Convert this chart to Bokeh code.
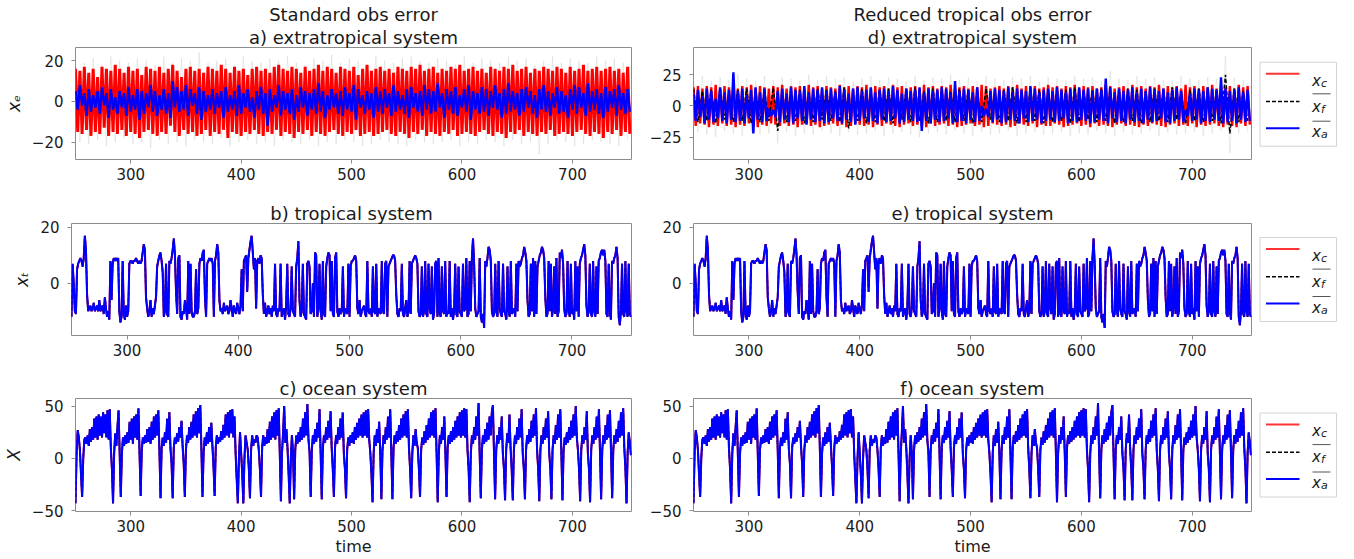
from bokeh.plotting import figure
from bokeh.layouts import column, row
from bokeh.models import Range1d, FixedTicker, Title
from bokeh.core.properties import value
from bokeh.embed import file_html
from bokeh.resources import INLINE

# ---------------- data ----------------
T0 = 250
# tropical system, one value per time unit from t=250
tropical = [
    -12, 7, 0, -10, -11, 5, 7, 8, 9, 8,
    6, 9, 17, 12, -4, -10, -9, -8, -10, -9,
    -7, -10, -9, -8, -10, -6, -10, -9, -8, -11,
    -5, -9, -12, -10, -13, 8, -6, 7, 9, 8,
    9, 8, 9, -10, -14, -12, 8, -11, -13, -8,
    -12, -10, 7, 8, 8, 7, 8, 8, 9, 8,
    7, 8, 7, 8, 11, 14, 12, -5, -9, -12,
    -10, -6, -12, -9, -11, -8, -5, 6, 8, 10,
    11, 8, 4, -12, -10, 7, -11, -12, 8, 7,
    9, 12, 16, 10, -3, -11, 9, 10, -12, -13,
    -10, -11, -6, -9, -13, 8, -11, 7, -10, -12,
    -12, -10, 5, -11, -9, 7, 9, 8, 11, 12,
    -5, -12, 7, 8, 9, 8, 9, 7, -12, 8,
    10, 14, 11, -6, -10, -9, -11, -7, -10, -9,
    -8, -11, -10, -6, -9, -12, -8, -10, -11, -7,
    -9, -11, -8, 5, -10, 8, 9, 10, -3, 9,
    12, 15, 17, 11, 5, 9, -9, 8, 9, 7,
    10, 9, -4, -11, -7, -12, -10, -8, -11, -9,
    -12, -8, -10, 7, -11, -12, -9, -10, 7, -12,
    -10, -9, -13, -8, 7, -11, -12, -9, 6, -10,
    -11, -12, 6, 9, 15, -6, -12, -10, 7, -11,
    -12, -13, 7, 8, 6, -11, -10, 0, -12, 11,
    10, -12, -9, 7, -10, -13, 8, -11, -12, 6,
    9, 11, 10, -10, 8, -11, -12, 9, 11, -10,
    -12, -9, -11, -10, 6, -12, -9, -10, -11, 7,
    -12, 6, 8, 8, 9, 10, 8, -9, -11, -6,
    -12, -10, -9, -8, -11, -12, 8, -10, -11, -9,
    -12, 6, -10, -11, 7, -12, -9, -10, -11, 8,
    -10, -11, 7, 8, -12, 6, 7, 8, 9, 10,
    10, 8, -4, -11, -12, -9, -10, 7, -11, -12,
    -9, -6, -12, -10, 8, -11, 7, 8, 9, 10,
    9, 7, -10, -12, -11, 6, -12, -10, 8, -11,
    -12, 7, -9, -11, 6, -13, -11, 7, 8, -12,
    9, -11, -12, 6, -10, -11, 8, -12, -10, -11,
    8, -12, -9, -13, -10, 7, -11, -12, 6, -10,
    -11, -12, 7, -10, -9, 9, -12, -11, 8, -10,
    9, 16, 7, -9, -12, -11, -10, 9, -12, -14,
    -11, -16, 8, 6, 9, 13, 12, 8, -10, -12,
    -11, 7, -10, -12, 8, -9, -11, -12, 7, -10,
    -11, -13, 6, -10, -12, 8, -11, -10, -9, -12,
    7, -10, 8, 6, 7, 9, 10, 13, 11, 8,
    -6, -12, -11, 7, -10, 9, -12, 8, -11, 6,
    8, 10, 11, 13, 12, 9, -5, -12, -11, 8,
    -10, 7, -12, -9, 6, -11, 9, -12, -10, 11,
    9, 12, 7, -9, -12, -11, 8, -10, -12, 7,
    -11, -9, -13, 8, -10, 6, -12, 7, 9, 10,
    12, 14, 10, -8, -12, -10, 7, -11, -12, 8,
    -10, -12, 6, -11, 8, 9, 11, 12, 10, 12,
    8, -11, -12, 7, -10, -13, 8, 7, 9, 10,
    13, 9, -12, -15, -10, 7, -11, -12, 8, -10,
    -12, 7, -11, -12,
]
# ocean system, one value per time unit from t=250
ocean = [
    -43, 5, 27, 20, 8, -15, -37, 0, 18, 20,
    14, 22, 12, 28, 16, 30, 18, 38, 20, 40,
    18, 42, 22, 40, 20, 44, 24, 42, 20, 46,
    18, 47, 10, -10, -43, 5, 24, 12, 30, 46,
    5, -37, 5, 20, 12, 22, 14, 25, 15, 35,
    18, 38, 14, 40, 20, 42, 18, 48, 5, -36,
    8, 20, 14, 22, 15, 28, 16, 30, 14, 35,
    18, 40, 20, 42, 22, 46, 8, -38, 10, 20,
    12, 25, 15, 38, 18, 44, 10, -5, -38, 10,
    20, 14, 24, 16, 30, 20, 36, 12, -5, -37,
    8, 22, 15, 30, 18, 35, 20, 42, 22, 45,
    20, 48, 24, 51, 10, -37, 5, 20, 12, 25,
    14, 30, 16, 34, 12, -8, -36, 10, 22, 14,
    20, 16, 26, 18, 32, 20, 42, 22, 44, 20,
    46, 24, 47, 20, 40, 5, -20, -43, 0, 25,
    5, -15, -43, 0, 22, 15, 8, -10, -38, 8,
    22, 12, 18, 15, 22, 20, 8, -10, -37, 10,
    22, 12, 20, 14, 28, 15, 35, 18, 40, 20,
    44, 18, 46, 22, 48, 5, -41, 5, 25, 50,
    15, 28, 10, -15, -43, 0, 22, 5, -39, 8,
    22, 14, 25, 16, 30, 18, 38, 20, 44, 22,
    52, 18, 5, -37, 8, 22, 14, 28, 16, 34,
    20, 47, 5, -39, 10, 22, 15, 30, 18, 36,
    20, 45, 10, -10, -37, 10, 22, 14, 30, 18,
    38, 20, 44, 5, -10, -38, 8, 20, 12, 22,
    15, 25, 14, 30, 18, 34, 20, 38, 22, 42,
    20, 44, 22, 46, 20, 47, 18, 5, -15, -42,
    5, 22, 12, 28, 15, 35, 5, -39, 8, 22,
    14, 30, 18, 40, 20, 47, 5, -39, 10, 22,
    14, 26, 16, 32, 18, 38, 20, 42, 22, 45,
    20, 47, 10, -10, -38, 5, 22, 12, 28, 15,
    10, -10, -37, 8, 20, 13, 26, 15, 32, 18,
    38, 20, 44, 22, 46, 20, 48, 5, -42, 5,
    22, 14, 30, 18, 40, 5, -37, 10, 22, 14,
    26, 16, 30, 18, 36, 20, 40, 22, 44, 20,
    46, 22, 48, 20, 47, 8, -10, -42, 5, 22,
    14, 30, 18, 40, 22, 53, 5, -38, 8, 22,
    14, 28, 16, 34, 18, 40, 22, 44, 51, 5,
    -39, 8, 22, 14, 30, 18, 40, 5, -10, -40,
    8, 24, 15, 42, 10, -10, -40, 8, 22, 14,
    30, 18, 38, 20, 47, 5, -10, -39, 8, 22,
    14, 28, 16, 36, 20, 42, 22, 48, 8, -10,
    -41, 8, 22, 14, 30, 18, 38, 20, 45, 5,
    -10, -39, 8, 22, 14, 32, 18, 42, 20, 47,
    5, -40, 8, 20, 13, 25, 15, 30, 18, 36,
    20, 42, 22, 50, 20, 8, -10, -41, 8, 22,
    14, 30, 18, 45, 5, -10, -42, 8, 22, 14,
    30, 18, 40, 20, 47, 5, -39, 8, 22, 14,
    32, 18, 42, 20, 46, 5, -38, 8, 22, 14,
    28, 16, 36, 20, 44, 22, 48, 10, -10, -43,
    5, 25, 15, 3,
]

# extratropical system: swing extremes per 4-time-unit bin (from t=250)
BIN = 4
xc_hi_a = [16, 15, 17, 14, 16, 12, 17, 16, 15, 18, 16, 14, 17, 15, 16, 13, 17, 16, 15, 17,
           14, 16, 18, 15, 12, 16, 17, 15, 16, 14, 17, 16, 15, 18, 16, 14, 17, 15, 16, 13,
           16, 17, 15, 16, 14, 17, 18, 16, 15, 17, 16, 14, 17, 15, 16, 18, 15, 17, 16, 14,
           17, 16, 15, 17, 13, 16, 18, 15, 16, 17, 15, 16, 14, 17, 16, 15, 17, 16, 18, 15,
           16, 17, 14, 16, 15, 17, 16, 18, 15, 16, 17, 15, 16, 14, 17, 16, 15, 17, 16, 18,
           15, 16, 17, 14, 16, 15, 17, 16, 15, 17, 16, 14, 17, 15, 16, 18, 15, 16, 17, 15,
           16, 17, 15, 16, 14, 17]
xc_lo_a = [-15, -16, -14, -17, -15, -16, -13, -17, -15, -16, -14, -17, -15, -16, -18, -15, -14, -16, -17, -15,
           -16, -12, -15, -17, -14, -16, -15, -17, -16, -14, -17, -15, -16, -14, -18, -15, -16, -17, -15, -16,
           -14, -16, -17, -15, -16, -14, -17, -15, -16, -18, -15, -16, -14, -17, -15, -16, -17, -15, -14, -16,
           -17, -15, -16, -14, -17, -16, -15, -17, -16, -15, -14, -16, -17, -15, -16, -18, -15, -16, -14, -17,
           -15, -16, -17, -15, -16, -14, -17, -16, -15, -16, -17, -15, -14, -16, -17, -15, -16, -18, -15, -16,
           -14, -17, -15, -16, -17, -15, -16, -14, -17, -16, -15, -16, -17, -15, -14, -16, -17, -15, -16, -18,
           -15, -16, -14, -17, -15, -16]
xa_hi_a = [5, 8, 4, 6, 3, 5, 7, 4, 6, 2, 5, 4, 7, 3, 6, 5, 4, 8, 5, 3,
           6, 4, 10, 7, 5, 8, 6, 4, 7, 5, 3, 6, 4, 5, 7, 3, 5, 8, 4, 6,
           2, 5, 7, 4, 6, 3, 8, 5, 4, 6, 3, 7, 5, 4, 6, 9, 5, 3, 6, 4,
           5, 7, 4, 8, 6, 3, 5, 4, 7, 5, 6, 4, 8, 5, 3, 6, 7, 4, 5, 8,
           6, 5, 9, 4, 6, 5, 7, 3, 6, 8, 5, 4, 7, 6, 5, 8, 4, 6, 9, 5,
           4, 6, 7, 5, 3, 6, 8, 5, 4, 7, 5, 3, 6, 8, 7, 4, 9, 5, 6, 4,
           7, 5, 6, 8, 4, 6]
xa_lo_a = [-4, -2, -7, -5, -3, -6, -2, -8, -4, -6, -3, -7, -5, -4, -9, -6, -3, -5, -7, -4,
           -6, -8, -3, -5, -4, -7, -2, -6, -9, -5, -4, -6, -3, -8, -5, -4, -7, -6, -3, -5,
           -8, -4, -6, -12, -5, -3, -7, -4, -6, -9, -5, -3, -7, -4, -6, -5, -8, -4, -3, -6,
           -7, -4, -5, -9, -3, -6, -4, -8, -5, -6, -3, -7, -5, -4, -6, -8, -3, -5, -7, -4,
           -6, -5, -3, -8, -4, -6, -7, -3, -5, -9, -4, -6, -5, -7, -3, -4, -8, -6, -5, -4,
           -7, -5, -3, -6, -8, -4, -5, -7, -3, -6, -5, -8, -4, -6, -3, -7, -5, -4, -6, -8,
           -5, -3, -7, -4, -6, -5]
xc_hi_d = [15, 16, 14, 16, 15, 17, 14, 16, 15, 16, 14, 16, 15, 17, 14, 16, 15, 14, 16, 15,
           17, 14, 16, 15, 16, 14, 17, 15, 16, 14, 16, 15, 14, 17, 15, 16, 14, 16, 15, 17,
           14, 16, 15, 16, 14, 17, 15, 16, 14, 15, 16, 14, 17, 15, 16, 14, 16, 15, 17, 14,
           15, 16, 14, 16, 15, 17, 16, 14, 15, 16, 14, 16, 15, 17, 14, 16, 15, 16, 14, 15,
           17, 15, 16, 14, 16, 15, 17, 14, 16, 15, 16, 14, 15, 17, 16, 14, 15, 16, 14, 17,
           15, 16, 14, 16, 15, 17, 14, 16, 15, 16, 14, 17, 15, 16, 14, 16, 15, 17, 14, 16,
           15, 16, 14, 17, 15, 16]
xc_lo_d = [-16, -14, -15, -17, -15, -16, -14, -16, -15, -17, -15, -16, -14, -16, -17, -15, -16, -14, -15, -16,
           -14, -16, -15, -17, -15, -14, -16, -15, -17, -16, -15, -14, -16, -15, -17, -16, -14, -15, -16, -15,
           -17, -15, -16, -14, -15, -16, -17, -15, -14, -16, -15, -16, -17, -14, -16, -15, -14, -16, -15, -17,
           -16, -15, -14, -16, -15, -17, -16, -14, -15, -16, -15, -17, -16, -14, -15, -16, -14, -17, -15, -16,
           -16, -14, -15, -17, -16, -15, -14, -16, -15, -17, -14, -16, -15, -16, -17, -15, -14, -16, -15, -16,
           -17, -15, -16, -14, -15, -16, -17, -15, -14, -16, -15, -16, -14, -17, -15, -16, -15, -14, -16, -17,
           -15, -16, -17, -14, -16, -15]
xa_hi_d = [10, 13, 8, 14, 12, 6, 15, 11, 13, 27, 12, 14, 9, 13, 15, 11, 14, -2, -3, 12,
           14, 10, 15, 13, 12, 16, 11, 14, 13, 15, 12, 14, 11, 16, 13, 10, 14, 15, 12, 13,
           15, 11, 13, 14, 12, 16, 13, 10, 14, 12, 13, 15, 11, 14, 12, 13, 15, 14, 11, 20,
           12, 14, 13, 11, 15, 0, -2, 12, 14, 13, 12, 15, 11, 14, 13, 12, 16, 14, 11, 13,
           14, 12, 15, 13, 11, 14, 12, 15, 13, 14, 12, 14, 13, 22, 15, 11, 14, 12, 13, 15,
           11, 14, 12, 15, 13, 12, 14, 11, 13, 15, 12, -3, 10, 14, 13, 12, 15, 14, 13, 23,
           14, 12, 13, 15, 11, 13]
xa_lo_d = [-12, -9, -14, -11, -13, -10, -12, -14, -11, -13, -12, -14, -10, -22, -11, -13, -12, -8, -9, -13,
           -11, -13, -14, -10, -12, -15, -11, -13, -12, -14, -13, -10, -12, -14, -11, -13, -15, -12, -10, -13,
           -12, -14, -11, -13, -12, -10, -14, -13, -11, -12, -13, -20, -12, -14, -11, -13, -12, -10, -14, -13,
           -12, -14, -11, -13, -12, -8, -9, -13, -11, -14, -13, -11, -12, -14, -10, -13, -12, -11, -14, -12,
           -11, -13, -12, -10, -14, -12, -13, -11, -12, -14, -13, -11, -12, -14, -10, -13, -12, -14, -11, -13,
           -12, -14, -11, -13, -12, -10, -13, -14, -12, -11, -13, -8, -12, -11, -14, -12, -13, -11, -12, -14,
           -13, -12, -14, -11, -13, -12]
# forecast mean and ensemble spread: swing extremes per 8-time-unit bin
BIN2 = 8
xf_hi_d = [14, 12, 13, 15, 11, 13, 14, 12, 13, 15, 12, 14, 13, 11, 14, 13, 12, 15, 13, 14,
           12, 13, 14, 11, 13, 15, 12, 14, 13, 12, 14, 13, 11, 14, 12, 13, 15, 12, 14, 13,
           12, 14, 13, 15, 12, 13, 14, 12, 13, 14, 13, 12, 14, 13, 15, 12, 13, 14, 12, 13,
           25, 14, 12]
xf_lo_d = [-13, -12, -14, -11, -13, -12, -14, -13, -12, -20, -13, -12, -14, -13, -11, -12, -13, -18, -12, -14,
           -13, -12, -14, -11, -13, -12, -14, -13, -12, -13, -12, -14, -13, -11, -13, -12, -14, -13, -12, -14,
           -13, -12, -14, -13, -11, -13, -12, -14, -13, -12, -14, -13, -12, -13, -11, -14, -12, -13, -12, -14,
           -22, -13, -12]
ens_hi_a = [20, 19, 21, 18, 22, 20, 19, 21, 20, 18, 22, 19, 21, 20, 24, 19, 20, 21, 18, 22,
            20, 19, 21, 20, 22, 19, 18, 21, 20, 23, 19, 21, 20, 18, 22, 20, 19, 21, 22, 20,
            19, 21, 20, 18, 22, 19, 21, 20, 19, 22, 20, 21, 18, 20, 22, 19, 21, 20, 19, 22,
            20, 21, 19]
ens_lo_a = [-20, -21, -19, -22, -20, -18, -21, -20, -23, -19, -21, -20, -22, -19, -20, -21, -18, -22, -20, -19,
            -21, -20, -22, -19, -20, -21, -19, -22, -20, -21, -19, -20, -22, -21, -19, -20, -21, -22, -19, -20,
            -21, -20, -19, -22, -20, -21, -19, -20, -22, -19, -21, -20, -26, -21, -19, -20, -22, -21, -19, -20,
            -21, -22, -19]
ens_hi_d = [22, 24, 20, 23, 21, 25, 22, 20, 24, 21, 23, 22, 20, 25, 21, 24, 22, 23, 20, 22,
            24, 21, 23, 22, 20, 24, 21, 23, 22, 25, 21, 23, 20, 24, 22, 21, 23, 22, 24, 20,
            23, 22, 21, 24, 22, 23, 20, 28, 22, 21, 24, 22, 23, 21, 20, 24, 22, 21, 23, 22,
            40, 23, 21]
ens_lo_d = [-21, -23, -25, -20, -22, -24, -21, -23, -22, -30, -21, -24, -22, -23, -20, -22, -24, -21, -23, -22,
            -20, -24, -22, -21, -23, -25, -22, -21, -23, -20, -22, -24, -21, -23, -22, -20, -24, -22, -21, -23,
            -22, -21, -24, -22, -23, -20, -22, -24, -21, -23, -22, -20, -24, -21, -23, -22, -21, -24, -22, -20,
            -38, -22, -21]

x_ticks = [300, 400, 500, 600, 700]

# ---------------- helpers ----------------
FONT = "DejaVu Sans"
GREY = "#8c8c8c"
TXT = "#1a1a1a"
X_RANGE = (250, 753.5)


def swings(hi, lo, width):
    xs, ys = [], []
    for k, (h, l) in enumerate(zip(hi, lo)):
        xs += [T0 + width * k, T0 + width * k + width / 2]
        ys += [h, l]
    return xs, ys


def make_panel(width, height, yr, yticks, ylabels, bl, br, bt, bb, titles, ylabel=None, xlabel=None):
    p = figure(width=width, height=height, x_range=Range1d(*X_RANGE), y_range=Range1d(*yr),
               output_backend="svg", toolbar_location=None, tools="",
               min_border_left=bl, min_border_right=br, min_border_top=bt, min_border_bottom=bb)
    p.grid.visible = False
    p.outline_line_color = GREY
    p.outline_line_width = 1
    p.xaxis.ticker = FixedTicker(ticks=x_ticks)
    p.yaxis.ticker = FixedTicker(ticks=yticks)
    p.yaxis.major_label_overrides = {t: l for t, l in zip(yticks, ylabels)}
    for ax in (p.xaxis[0], p.yaxis[0]):
        ax.axis_line_color = None
        ax.major_tick_line_color = GREY
        ax.major_tick_out = 4
        ax.major_tick_in = 0
        ax.minor_tick_line_color = None
        ax.major_label_text_font = FONT
        ax.major_label_text_font_size = "15px"
        ax.major_label_text_color = TXT
    p.xaxis.major_label_standoff = 4
    p.yaxis.major_label_standoff = 8
    if ylabel:
        p.yaxis.axis_label = ylabel
        p.yaxis.axis_label_text_font = FONT
        p.yaxis.axis_label_text_font_size = "17px"
        p.yaxis.axis_label_text_font_style = "italic"
        p.yaxis.axis_label_text_color = TXT
        p.yaxis.axis_label_standoff = 5
    if xlabel:
        p.xaxis.axis_label = xlabel
        p.xaxis.axis_label_text_font = FONT
        p.xaxis.axis_label_text_font_size = "16px"
        p.xaxis.axis_label_text_font_style = "normal"
        p.xaxis.axis_label_text_color = TXT
        p.xaxis.axis_label_standoff = 2
    # the plot's own title is the outermost line; further lines go below it
    p.title.text = titles[0]
    p.title.align = "center"
    p.title.text_font = FONT
    p.title.text_font_size = "18px"
    p.title.text_font_style = "normal"
    p.title.text_color = TXT
    p.title.standoff = 0
    for ln in titles[1:]:
        p.add_layout(Title(text=ln, align="center", text_font=FONT, text_font_size="18px",
                           text_font_style="normal", text_color=TXT, standoff=0), "above")
    return p


def make_legend(H, bt, bb, yc):
    # frame of this figure lines up with the panel frames of its row;
    # data coordinates equal pixel rows of the row figure
    L = figure(width=101, height=H, x_range=Range1d(0, 101), y_range=Range1d(H - bb, bt),
               output_backend="svg", toolbar_location=None, tools="",
               min_border_left=0, min_border_right=0, min_border_top=bt, min_border_bottom=bb,
               x_axis_location=None, y_axis_location=None)
    L.grid.visible = False
    L.outline_line_color = None
    L.quad(left=[7.5], right=[84], top=[yc - 42], bottom=[yc + 42],
           fill_color="white", line_color="#d4d4d4", line_width=1)
    ly = [yc - 30.4, yc - 2.7, yc + 24]
    L.line([13.5, 47], [ly[0], ly[0]], line_color="red", line_width=2, line_alpha=0.8)
    L.line([13.5, 47], [ly[1], ly[1]], line_color="black", line_width=1.5, line_dash="4 2")
    L.line([13.5, 47], [ly[2], ly[2]], line_color="blue", line_width=2)
    base = [yc - 23.7, yc + 2.3, yc + 28]
    L.text(x=[59.5, 59.5, 59.5], y=base, text=["x", "x", "x"], text_font=value(FONT),
           text_font_size="15px", text_font_style="italic", text_baseline="alphabetic",
           text_align="left", text_color=TXT)
    L.text(x=[68.5, 68.5, 68.5], y=[base[0] + 2.5, base[1] + 2.5, base[2] + 2.5], text=["c", "f", "a"],
           text_font=value(FONT), text_font_size="11px", text_font_style="italic",
           text_baseline="alphabetic", text_align="left", text_color=TXT)
    L.segment(x0=[60, 60], y0=[yc - 10.4, yc + 17], x1=[78, 78], y1=[yc - 10.4, yc + 17],
              line_color="#555555", line_width=1)
    return L


def draw_extra(p, ens_hi, ens_lo, xc_hi, xc_lo, xf_hi, xf_lo, xf_w, xa_hi, xa_lo, red_w):
    ex, ey = swings(ens_hi, ens_lo, BIN2)
    p.line(ex, ey, line_color="#b5c2b5", line_width=1, line_alpha=0.3)
    rx, ry = swings(xc_hi, xc_lo, BIN)
    p.line(rx, ry, line_color="red", line_width=red_w)
    fx, fy = swings(xf_hi, xf_lo, xf_w)
    p.line(fx, fy, line_color="black", line_width=1.5, line_dash="4 2")
    bx, by = swings(xa_hi, xa_lo, BIN)
    p.line(bx, by, line_color="blue", line_width=2.4)


def draw_series(p, vals):
    ts = list(range(T0, T0 + len(vals)))
    p.line(ts, vals, line_color="red", line_width=2)
    p.line(ts, vals, line_color="black", line_width=1.5, line_dash="4 2")
    p.line(ts, vals, line_color="blue", line_width=2)


# ---------------- panels ----------------
H1, H2, H3 = 190, 176, 193
LW, RW = 639, 613

pa = make_panel(LW, H1, (-28.6, 26.5), [-20, 0, 20], ["\u221220", "0", "20"], 71, 8, 47, 31,
                ["Standard obs error", "a) extratropical system"], ylabel="x\u2091")
draw_extra(pa, ens_hi_a, ens_lo_a, xc_hi_a, xc_lo_a, xa_hi_a, xa_lo_a, BIN, xa_hi_a, xa_lo_a, 3.0)

pd = make_panel(RW, H1, (-43, 47), [-25, 0, 25], ["\u221225", "0", "25"], 54, 1, 47, 31,
                ["Reduced tropical obs error", "d) extratropical system"])
draw_extra(pd, ens_hi_d, ens_lo_d, xc_hi_d, xc_lo_d, xf_hi_d, xf_lo_d, BIN2, xa_hi_d, xa_lo_d, 2.4)

pb = make_panel(LW, H2, (-18.7, 21.4), [0, 20], ["0", "20"], 71, 8, 33, 31,
                ["b) tropical system"], ylabel="x\u209c")
draw_series(pb, tropical)
pe = make_panel(RW, H2, (-18.7, 21.4), [0, 20], ["0", "20"], 54, 1, 33, 31,
                ["e) tropical system"])
draw_series(pe, tropical)

pc = make_panel(LW, H3, (-50.8, 57.3), [-50, 0, 50], ["\u221250", "0", "50"], 71, 8, 32, 48,
                ["c) ocean system"], ylabel="X", xlabel="time")
draw_series(pc, ocean)
pf = make_panel(RW, H3, (-50.8, 57.3), [-50, 0, 50], ["\u221250", "0", "50"], 54, 1, 32, 48,
                ["f) ocean system"], xlabel="time")
draw_series(pf, ocean)

leg1 = make_legend(H1, 47, 31, 103.7)
leg2 = make_legend(H2, 33, 31, 89)
leg3 = make_legend(H3, 32, 48, 88.5)

layout = column(row(pa, pd, leg1), row(pb, pe, leg2), row(pc, pf, leg3))

open("out.html", "w").write(file_html(layout, INLINE))
